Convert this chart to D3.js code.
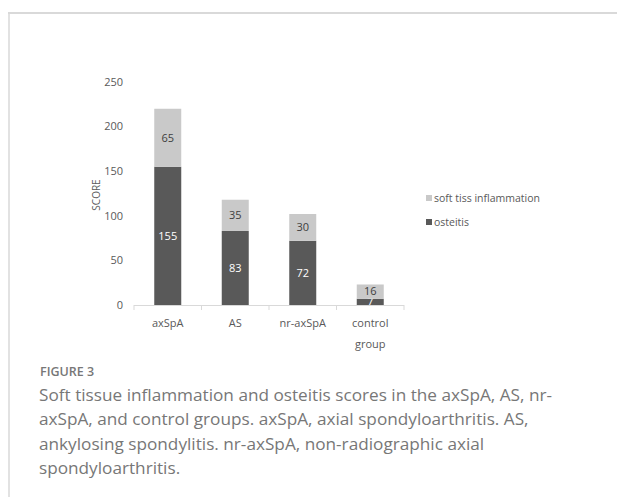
<!DOCTYPE html>
<html>
<head>
<meta charset="utf-8">
<script src="https://cdn.jsdelivr.net/npm/d3@7"></script>
<style>
  body { margin: 0; background: #fff; }
  svg { display: block; }
</style>
</head>
<body>
<script>
const categories = [["axSpA"], ["AS"], ["nr-axSpA"], ["control", "group"]]
const osteitis = [155, 83, 72, 7]
const softTissue = [65, 35, 30, 16]
const seriesNames = ["soft tiss inflammation", "osteitis"]
const yTicks = [0, 50, 100, 150, 200, 250]
const captionTitle = "FIGURE 3"
const captionLines = [
  "Soft tissue inflammation and osteitis scores in the axSpA, AS, nr-",
  "axSpA, and control groups. axSpA, axial spondyloarthritis. AS,",
  "ankylosing spondylitis. nr-axSpA, non-radiographic axial",
  "spondyloarthritis."
]

const W = 617, H = 497
const font = "'Open Sans', sans-serif"
const dark = "#595959", light = "#c9c9c9"

const svg = d3.select("body").append("svg")
  .attr("width", W).attr("height", H)

// frame
svg.append("line").attr("x1", 8).attr("x2", W).attr("y1", 13).attr("y2", 13)
  .attr("stroke", "#d9d9d9").attr("stroke-width", 2)
svg.append("line").attr("x1", 9).attr("x2", 9).attr("y1", 12).attr("y2", H)
  .attr("stroke", "#d9d9d9").attr("stroke-width", 1.5)

const x = d3.scaleBand().domain(d3.range(categories.length)).range([134, 404]).paddingInner(0.6).paddingOuter(0.3)
const y = d3.scaleLinear().domain([0, 250]).range([305, 82])

// y tick labels
svg.append("g").selectAll("text").data(yTicks).enter().append("text")
  .attr("x", 123).attr("y", d => y(d)).attr("dy", "0.35em")
  .attr("text-anchor", "end").attr("font-family", font).attr("font-size", 11)
  .attr("fill", "#595959").text(d => d)

svg.append("text").attr("transform", "translate(100,195) rotate(-90)")
  .attr("text-anchor", "middle").attr("font-family", font).attr("font-size", 10)
  .attr("fill", "#595959").text("SCORE")

// bars: dark segment + its label, then light segment on top
const bars = svg.append("g")
bars.selectAll("rect.ost").data(osteitis).enter().append("rect")
  .attr("class", "ost")
  .attr("x", (d, i) => x(i)).attr("width", x.bandwidth())
  .attr("y", d => y(d)).attr("height", d => y(0) - y(d))
  .attr("fill", dark)
bars.selectAll("text.ost").data(osteitis).enter().append("text")
  .attr("class", "ost")
  .attr("x", (d, i) => x(i) + x.bandwidth() / 2).attr("y", d => (y(d) + y(0)) / 2)
  .attr("dy", "0.35em").attr("text-anchor", "middle")
  .attr("font-family", font).attr("font-size", 11).attr("fill", "#fff").text(d => d)
bars.selectAll("rect.soft").data(softTissue).enter().append("rect")
  .attr("class", "soft")
  .attr("x", (d, i) => x(i)).attr("width", x.bandwidth())
  .attr("y", (d, i) => y(osteitis[i] + d)).attr("height", (d, i) => y(osteitis[i]) - y(osteitis[i] + d))
  .attr("fill", light)
bars.selectAll("text.soft").data(softTissue).enter().append("text")
  .attr("class", "soft")
  .attr("x", (d, i) => x(i) + x.bandwidth() / 2).attr("y", (d, i) => (y(osteitis[i]) + y(osteitis[i] + d)) / 2)
  .attr("dy", "0.35em").attr("text-anchor", "middle")
  .attr("font-family", font).attr("font-size", 11).attr("fill", "#404040").text(d => d)

// x axis
const xa = svg.append("g")
xa.append("line").attr("x1", 134).attr("x2", 404).attr("y1", 305.5).attr("y2", 305.5)
  .attr("stroke", "#d9d9d9")
xa.selectAll("line.tick").data(d3.range(categories.length + 1)).enter().append("line")
  .attr("x1", i => 134 + i * (270 / categories.length)).attr("x2", i => 134 + i * (270 / categories.length))
  .attr("y1", 305).attr("y2", 310).attr("stroke", "#d9d9d9")
xa.selectAll("text").data(categories).enter().append("text")
  .attr("x", (d, i) => x(i) + x.bandwidth() / 2).attr("y", 327)
  .attr("text-anchor", "middle").attr("font-family", font).attr("font-size", 11).attr("fill", "#595959")
  .each(function(d) {
    d3.select(this).selectAll("tspan").data(d).enter().append("tspan")
      .attr("x", d3.select(this).attr("x")).attr("dy", (t, j) => j ? 21 : 0).text(t => t)
  })

// legend
const lg = svg.append("g")
lg.selectAll("rect").data(seriesNames).enter().append("rect")
  .attr("x", 426).attr("y", (d, i) => 195 + i * 24).attr("width", 6).attr("height", 6)
  .attr("fill", (d, i) => i ? dark : light)
lg.selectAll("text").data(seriesNames).enter().append("text")
  .attr("x", 434).attr("y", (d, i) => 198 + i * 24).attr("dy", "0.35em")
  .attr("font-family", font).attr("font-size", 10.5).attr("fill", "#595959").text(d => d)

// caption
svg.append("text").attr("x", 40).attr("y", 376)
  .attr("font-family", font).attr("font-size", 12.5).attr("font-weight", 600)
  .attr("fill", "#777").text(captionTitle)
svg.append("g").selectAll("text").data(captionLines).enter().append("text")
  .attr("x", 39).attr("y", (d, i) => 401 + i * 24.3)
  .attr("font-family", font).attr("font-size", 17.2).attr("fill", "#777").text(d => d)
</script>
</body>
</html>
